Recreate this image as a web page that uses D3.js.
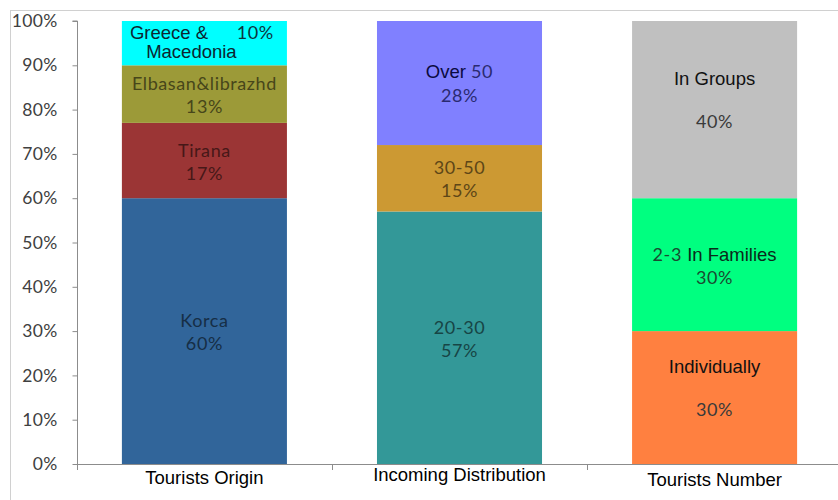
<!DOCTYPE html>
<html>
<head>
<meta charset="utf-8">
<script src="https://cdn.jsdelivr.net/npm/d3@7"></script>
<style>
html,body{margin:0;padding:0;background:#fff;}
svg{display:block;}
</style>
</head>
<body>
<svg id="chart" width="838" height="500"></svg>
<script>
// ---- data ----
const categories = ["Tourists Origin", "Incoming Distribution", "Tourists Number"];
const originNames = ["Korca", "Tirana", "Elbasan&librazhd", "Greece & Macedonia"];
const originValues = [60, 17, 13, 10];
const ageNames = ["20-30", "30-50", "Over 50"];
const ageValues = [57, 15, 28];
const groupNames = ["Individually", "2-3 In Families", "In Groups"];
const groupValues = [30, 30, 40];
const yTicks = [0, 10, 20, 30, 40, 50, 60, 70, 80, 90, 100];
const tickLabels = ["0%", "10%", "20%", "30%", "40%", "50%", "60%", "70%", "80%", "90%", "100%"];

const originColors = ["#31659a", "#9b3535", "#9c9a38", "#00ffff"];
const ageColors = ["#339898", "#cc9933", "#8080ff"];
const groupColors = ["#ff8040", "#00ff80", "#c0c0c0"];

const svg = d3.select("#chart");
const W = 838, H = 500;
const m = {left: 77, top: 21, bottom: 36};
const plotW = 765; // axis runs past right edge
const y = d3.scaleLinear().domain([0, 100]).range([464, 21]);
const x = d3.scaleBand().domain(categories).range([m.left, m.left + plotW]).paddingInner(0.353).paddingOuter(0.176);

// frame
svg.append("line").attr("x1", 10).attr("x2", W).attr("y1", 10.5).attr("y2", 10.5).attr("stroke", "#d0d0d0");
svg.append("line").attr("x1", 10.5).attr("x2", 10.5).attr("y1", 10).attr("y2", H).attr("stroke", "#d0d0d0");

const stacks = [
  {names: originNames, values: originValues, colors: originColors},
  {names: ageNames, values: ageValues, colors: ageColors},
  {names: groupNames, values: groupValues, colors: groupColors}
];

const segs = [];
stacks.forEach((s, ci) => {
  let acc = 0;
  s.values.forEach((v, i) => {
    segs.push({cat: categories[ci], ci, i, name: s.names[i], v, y0: acc, y1: acc + v, color: s.colors[i]});
    acc += v;
  });
});

svg.append("g").selectAll("rect").data(segs).join("rect")
  .attr("x", d => x(d.cat))
  .attr("width", x.bandwidth())
  .attr("y", d => y(d.y1))
  .attr("height", d => y(d.y0) - y(d.y1))
  .attr("fill", d => d.color);

// axes
const yAxis = d3.axisLeft(y).tickValues(yTicks).tickFormat((d, i) => tickLabels[i]).tickSize(5).tickPadding(15);
const gy = svg.append("g").attr("transform", `translate(${m.left + 0.5},0)`).call(yAxis);
gy.selectAll(".tick text").attr("font-family", "Lato, 'Open Sans', sans-serif").attr("font-size", 17.5).attr("fill", "#404040").attr("letter-spacing", 0.3);
gy.selectAll("line,path").attr("stroke", "#8c8c8c");
gy.select(".domain").attr("d", `M-5,${y(100)}H0V${y(0)}`);

const xEdge = d3.scaleLinear().domain([0, 3]).range([m.left, m.left + plotW]);
svg.append("line").attr("x1", m.left).attr("x2", W).attr("y1", y(0) + 0.5).attr("y2", y(0) + 0.5).attr("stroke", "#8c8c8c");
svg.append("g").selectAll("line").data([0, 1, 2]).join("line")
  .attr("x1", d => Math.round(xEdge(d)) + 0.5).attr("x2", d => Math.round(xEdge(d)) + 0.5)
  .attr("y1", y(0)).attr("y2", y(0) + 6).attr("stroke", "#8c8c8c");

const catDy = [20, 17, 22];
svg.append("g").selectAll("text").data(categories).join("text")
  .attr("x", d => x(d) + x.bandwidth() / 2)
  .attr("y", (d, i) => y(0) + catDy[i])
  .attr("text-anchor", "middle")
  .attr("font-family", "'Liberation Sans', Arial, sans-serif")
  .attr("font-size", 18.5)
  .attr("fill", "#000")
  .text(d => d);

// segment labels
const CAL = "Lato, 'Open Sans', sans-serif";
const ARI = "'Liberation Sans', Arial, sans-serif";
const lg = svg.append("g");
const fs = f => f === CAL ? 18 : 18.5;
segs.forEach(d => {
  const cx = x(d.cat) + x.bandwidth() / 2;
  const cy = (y(d.y0) + y(d.y1)) / 2;
  const pct = d.v + "%";
  const dark = d3.color(d.color).darker(2.2).formatHex();
  const t = (txt, tx, ty, font, fill, anchor) => lg.append("text").attr("x", tx).attr("y", ty)
    .attr("text-anchor", anchor || "middle").attr("font-family", font).attr("font-size", fs(font))
    .attr("letter-spacing", font === CAL ? 0.6 : 0).attr("fill", fill).text(txt);
  if (d.name === "Greece & Macedonia") {
    t("Greece &", x(d.cat) + 8, cy - 4, ARI, "#0c2630", "start");
    t("Macedonia", cx - 13, cy + 15, ARI, "#0c2630");
    t(pct, x(d.cat) + 152, cy - 4, CAL, "#0c3440", "end");
  } else if (d.name === "Over 50") {
    const tx = lg.append("text").attr("x", cx).attr("y", cy - 5).attr("text-anchor", "middle");
    tx.append("tspan").attr("font-family", ARI).attr("font-size", fs(ARI)).attr("fill", "#0a0a40").text("Over ");
    tx.append("tspan").attr("font-family", CAL).attr("font-size", fs(CAL)).attr("letter-spacing", 0.6).attr("fill", "#2a2a70").text(" 50");
    t(pct, cx, cy + 19, CAL, "#2a2a70");
  } else if (d.name === "2-3 In Families") {
    const tx = lg.append("text").attr("x", cx).attr("y", cy - 4).attr("text-anchor", "middle");
    tx.append("tspan").attr("font-family", CAL).attr("font-size", fs(CAL)).attr("letter-spacing", 0.6).attr("fill", "#1a4a30").text("2-3 ");
    tx.append("tspan").attr("font-family", ARI).attr("font-size", fs(ARI)).attr("fill", "#0a2a1a").text("In Families");
    t(pct, cx, cy + 19, CAL, "#1a4a30");
  } else if (d.name === "Individually" || d.name === "In Groups") {
    t(d.name, cx, cy - 25, ARI, "#111");
    t(pct, cx, cy + 18, CAL, "#3a3a3a");
  } else {
    t(d.name, cx, cy - 4, CAL, dark);
    t(pct, cx, cy + 19, CAL, dark);
  }
});
</script>
</body>
</html>
